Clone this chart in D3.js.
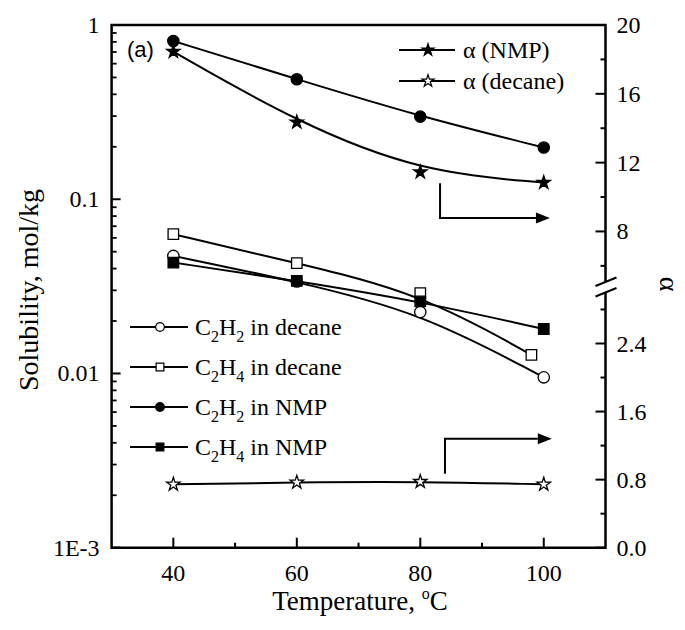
<!DOCTYPE html>
<html><head><meta charset="utf-8">
<script src="https://cdn.jsdelivr.net/npm/d3@7"></script>
<style>body{margin:0;background:#fff} text{font-family:"Liberation Serif","Times New Roman",serif;fill:#000}</style>
</head><body><svg id="c" width="685" height="630"></svg>
<script>
// ---------- data ----------
const temps = [40, 60, 80, 100];
const tempsC2H4Decane = [40, 60, 80, 98];
const c2h2Decane = [0.0473, 0.0337, 0.0225, 0.0095];
const c2h4Decane = [0.063, 0.043, 0.0289, 0.0128];
const c2h2NMP = [0.81, 0.488, 0.298, 0.198];
const c2h4NMP = [0.0433, 0.034, 0.0259, 0.018];
const alphaNMP = [18.45, 14.35, 11.45, 10.84];
const alphaDecane = [0.745, 0.768, 0.776, 0.745];
const xTicks = [40, 60, 80, 100];
const xMinorTicks = [50, 70, 90];
const yLeftTicks = [1, 0.1, 0.01, 0.001];
const yLeftLabels = ["1", "0.1", "0.01", "1E-3"];
const alphaLowTicks = [0, 0.8, 1.6, 2.4];
const alphaLowLabels = ["0.0", "0.8", "1.6", "2.4"];
const alphaLowMinor = [0.4, 1.2, 2.0, 2.8];
const alphaHighTicks = [8, 12, 16, 20];
const alphaHighLabels = ["8", "12", "16", "20"];
const alphaHighMinor = [6, 10, 14, 18];
const arrowNMP = [[83.2, 10.8], [83.2, 8.78], [101, 8.78]];
const arrowDecane = [[84, 0.87], [84, 1.28], [101.3, 1.28]];

// ---------- layout ----------
const L = 111.6, R = 605.5, T = 25, B = 547.7, BRK = 286.5;
const svg = d3.select("#c");
const x = d3.scaleLinear().domain([30, 110]).range([L, R]);
const yL = d3.scaleLog().domain([0.001, 1]).range([B, T]);
const yR = d3.scaleLinear().domain([0, 3.07, 4.8, 20]).range([B, BRK, BRK, T]);

const lineW = 2;
const curve = d3.curveBasis;

function drawSeries(xs, vals, yscale, symType, filled, size) {
  const pts = xs.map((t, i) => [x(t), yscale(vals[i])]);
  svg.append("path").attr("d", d3.line().curve(curve)(pts))
    .attr("fill", "none").attr("stroke", "#000").attr("stroke-width", lineW);
  return pts.map(p => ({p, symType, filled, size}));
}
function drawMarkers(list) {
  list.forEach(m => {
    svg.append("path").attr("d", d3.symbol().type(m.symType).size(m.size)())
      .attr("transform", `translate(${m.p[0]},${m.p[1]})`)
      .attr("fill", m.filled ? "#000" : "#fff").attr("stroke", "#000").attr("stroke-width", 1.3);
  });
}

const marks = [];
marks.push(...drawSeries(temps, c2h2Decane, yL, d3.symbolCircle, false, 100));
marks.push(...drawSeries(tempsC2H4Decane, c2h4Decane, yL, d3.symbolSquare, false, 110));
marks.push(...drawSeries(temps, c2h2NMP, yL, d3.symbolCircle, true, 100));
marks.push(...drawSeries(temps, c2h4NMP, yL, d3.symbolSquare, true, 110));
marks.push(...drawSeries(temps, alphaNMP, yR, d3.symbolStar, true, 55));
marks.push(...drawSeries(temps, alphaDecane, yR, d3.symbolStar, false, 55));
drawMarkers(marks);

// arrows
function arrow(pts) {
  const p = pts.map(d => [x(d[0]), yR(d[1])]);
  const end = p[p.length - 1];
  const head = 14, hw = 5.5;
  const q = p.slice(0, -1).concat([[end[0] - head, end[1]]]);
  svg.append("path").attr("d", d3.line()(q)).attr("fill", "none").attr("stroke", "#000").attr("stroke-width", lineW);
  svg.append("path").attr("d", d3.line()([[end[0], end[1]], [end[0] - head, end[1] - hw], [end[0] - head, end[1] + hw]]) + "Z")
    .attr("fill", "#000");
}
arrow(arrowNMP);
arrow(arrowDecane);

// ---------- axes ----------
const axW = 2.5;
svg.append("path").attr("d", `M${L},${T}H${R}V${B}H${L}Z`).attr("fill", "none").attr("stroke", "#000").attr("stroke-width", axW);

// bottom
const gx = svg.append("g");
xTicks.forEach(t => gx.append("line").attr("x1", x(t)).attr("x2", x(t)).attr("y1", B).attr("y2", B - 10).attr("stroke", "#000").attr("stroke-width", 2));
xMinorTicks.forEach(t => gx.append("line").attr("x1", x(t)).attr("x2", x(t)).attr("y1", B).attr("y2", B - 5).attr("stroke", "#000").attr("stroke-width", 2));
xTicks.forEach(t => gx.append("text").attr("x", x(t)).attr("y", B + 33).attr("text-anchor", "middle").attr("font-size", 24).text(t));

// left (log)
const gy = svg.append("g");
yLeftTicks.forEach((t, i) => {
  gy.append("line").attr("x1", L).attr("x2", L + 9).attr("y1", yL(t)).attr("y2", yL(t)).attr("stroke", "#000").attr("stroke-width", 2);
  gy.append("text").attr("x", L - 12).attr("y", yL(t) + 8).attr("text-anchor", "end").attr("font-size", 24).text(yLeftLabels[i]);
});
[0.001, 0.01, 0.1].forEach(dec => {
  for (let k = 2; k <= 9; k++) {
    const v = dec * k;
    gy.append("line").attr("x1", L).attr("x2", L + 5).attr("y1", yL(v)).attr("y2", yL(v)).attr("stroke", "#000").attr("stroke-width", 1.8);
  }
});

// right (alpha, broken)
const gr = svg.append("g");
alphaLowTicks.concat(alphaHighTicks).forEach((t, i) => {
  gr.append("line").attr("x1", R).attr("x2", R - 10).attr("y1", yR(t)).attr("y2", yR(t)).attr("stroke", "#000").attr("stroke-width", 2);
});
alphaLowMinor.concat(alphaHighMinor).forEach(t => {
  gr.append("line").attr("x1", R).attr("x2", R - 5).attr("y1", yR(t)).attr("y2", yR(t)).attr("stroke", "#000").attr("stroke-width", 2);
});
alphaLowTicks.forEach((t, i) => gr.append("text").attr("x", R + 11).attr("y", yR(t) + 8).attr("font-size", 24).text(alphaLowLabels[i]));
alphaHighTicks.forEach((t, i) => gr.append("text").attr("x", R + 11).attr("y", yR(t) + 8).attr("font-size", 24).text(alphaHighLabels[i]));
// break marks
gr.append("path").attr("d", `M${R - 10},${BRK + 4.5}L${R + 11},${BRK - 4}L${R + 11},${BRK + 6}L${R - 10},${BRK + 14.5}Z`).attr("fill", "#fff").attr("transform", "translate(0,-5)");
gr.append("line").attr("x1", R - 10).attr("y1", BRK - 0.5).attr("x2", R + 11).attr("y2", BRK - 9).attr("stroke", "#000").attr("stroke-width", 2);
gr.append("line").attr("x1", R - 10).attr("y1", BRK + 10).attr("x2", R + 11).attr("y2", BRK + 1.5).attr("stroke", "#000").attr("stroke-width", 2);

// axis titles
svg.append("text").attr("x", 360).attr("y", 610).attr("text-anchor", "middle").attr("font-size", 27)
  .call(t => { t.append("tspan").text("Temperature, "); t.append("tspan").attr("font-size", 16).attr("dy", -11).text("o"); t.append("tspan").attr("dy", 11).text("C"); });
svg.append("text").attr("transform", "translate(38,290) rotate(-90)").attr("text-anchor", "middle").attr("font-size", 28).text("Solubility, mol/kg");
svg.append("text").attr("transform", "translate(660,284) rotate(90)").attr("text-anchor", "middle").attr("font-size", 28).text("α");

// (a)
svg.append("text").attr("x", 127).attr("y", 57).attr("font-size", 22).style("font-family", "'Liberation Sans',Arial,sans-serif").text("(a)");

// ---------- legends ----------
function legendEntry(x0, x1, xm, y, symType, filled, size, build, textX) {
  svg.append("line").attr("x1", x0).attr("x2", x1).attr("y1", y).attr("y2", y).attr("stroke", "#000").attr("stroke-width", lineW);
  svg.append("path").attr("d", d3.symbol().type(symType).size(size)()).attr("transform", `translate(${xm},${y})`)
    .attr("fill", filled ? "#000" : "#fff").attr("stroke", "#000").attr("stroke-width", 1.2);
  const t = svg.append("text").attr("x", textX).attr("y", y + 8).attr("font-size", 24);
  build(t);
}
function chem(sub1, rest) {
  return t => {
    t.append("tspan").text("C");
    t.append("tspan").attr("font-size", 16).attr("dy", 7).text("2");
    t.append("tspan").attr("dy", -7).text("H");
    t.append("tspan").attr("font-size", 16).attr("dy", 7).text(sub1);
    t.append("tspan").attr("dy", -7).text(" " + rest);
  };
}
legendEntry(399, 455, 428, 50, d3.symbolStar, true, 45, t => t.text("α (NMP)"), 463);
legendEntry(399, 455, 428, 81, d3.symbolStar, false, 45, t => t.text("α (decane)"), 463);
legendEntry(130, 188, 160, 327, d3.symbolCircle, false, 60, chem("2", "in decane"), 195);
legendEntry(130, 188, 160, 367, d3.symbolSquare, false, 60, chem("4", "in decane"), 195);
legendEntry(130, 188, 160, 407, d3.symbolCircle, true, 60, chem("2", "in NMP"), 195);
legendEntry(130, 188, 160, 447, d3.symbolSquare, true, 60, chem("4", "in NMP"), 195);
</script></body></html>
